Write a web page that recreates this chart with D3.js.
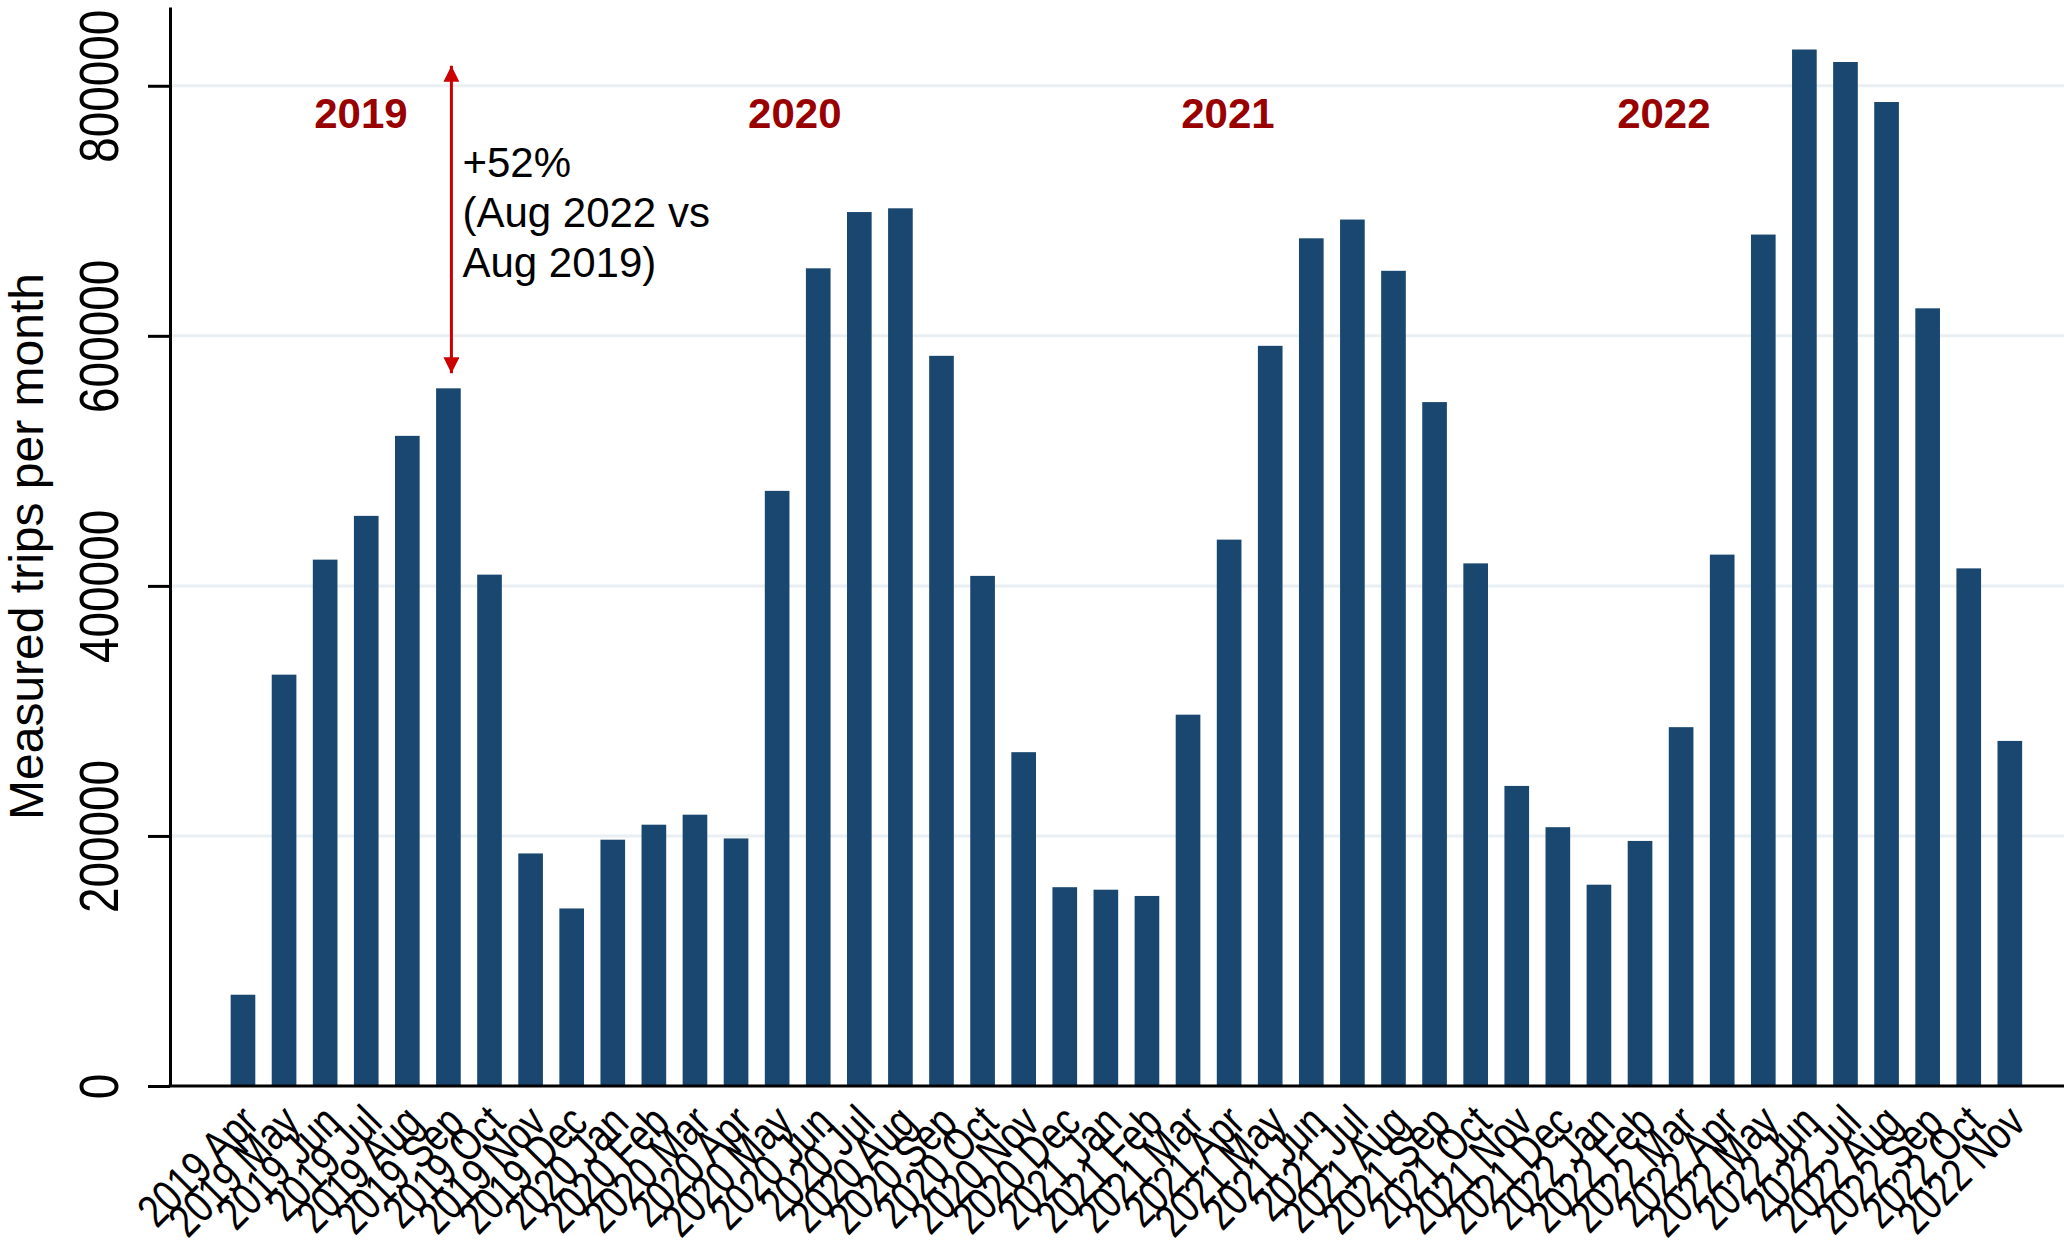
<!DOCTYPE html>
<html>
<head>
<meta charset="utf-8">
<script src="https://cdn.jsdelivr.net/npm/d3@7"></script>
<style>
  html, body { margin: 0; padding: 0; background: #fff; }
  text { font-family: "Liberation Sans", Arial, sans-serif; }
</style>
</head>
<body>
<div id="chart"></div>
<script>
// months on the x axis
const months = [
  "2019 Apr", "2019 May", "2019 Jun", "2019 Jul", "2019 Aug", "2019 Sep", "2019 Oct", "2019 Nov", "2019 Dec",
  "2020 Jan", "2020 Feb", "2020 Mar", "2020 Apr", "2020 May", "2020 Jun", "2020 Jul", "2020 Aug", "2020 Sep", "2020 Oct", "2020 Nov", "2020 Dec",
  "2021 Jan", "2021 Feb", "2021 Mar", "2021 Apr", "2021 May", "2021 Jun", "2021 Jul", "2021 Aug", "2021 Sep", "2021 Oct", "2021 Nov", "2021 Dec",
  "2022 Jan", "2022 Feb", "2022 Mar", "2022 Apr", "2022 May", "2022 Jun", "2022 Jul", "2022 Aug", "2022 Sep", "2022 Oct", "2022 Nov"
];

// measured trips per month
const trips = [
  73000, 329000, 421000, 456000, 520000, 558000, 409000, 186000, 142000,
  197000, 209000, 217000, 198000, 476000, 654000, 699000, 702000, 584000, 408000, 267000, 159000,
  157000, 152000, 297000, 437000, 592000, 678000, 693000, 652000, 547000, 418000, 240000, 207000,
  161000, 196000, 287000, 425000, 681000, 829000, 819000, 787000, 622000, 414000, 276000
];

const yTicks = [0, 200000, 400000, 600000, 800000];
const yMax = 863000;

// year captions, placed at (month index, trips)
const yearLabels = ["2019", "2020", "2021", "2022"];
const yearLabelIndex = [2.87, 13.43, 23.97, 34.58];
const yearLabelValue = 766000;

// the +52% arrow and its note
const arrowMonth = "2019 Sep";
const arrowFrom = 570000;
const arrowTo = 816000;
const noteLines = ["+52%", "(Aug 2022 vs", "Aug 2019)"];
const noteValues = [727000, 687000, 647000];

const width = 2064;
const height = 1255;
const plot = { left: 170, right: 2064, top: 7, bottom: 1086 };

const barColor = "#1a476f";
const gridColor = "#e9eff3";
const yearColor = "#990000";
const arrowColor = "#cc0000";

const svg = d3.select("#chart")
    .append("svg")
    .attr("width", width)
    .attr("height", height)
    .style("display", "block");

svg.append("rect").attr("width", width).attr("height", height).attr("fill", "#fff");

const x = d3.scaleBand()
    .domain(months)
    .range([210.1, 2042.7])
    .paddingInner(0.4)
    .paddingOuter(0.5);

const y = d3.scaleLinear()
    .domain([0, yMax])
    .range([plot.bottom, plot.top]);

// month index -> bar centre, for the captions
const xi = d3.scaleLinear()
    .domain([0, months.length - 1])
    .range([x(months[0]) + x.bandwidth() / 2, x(months[months.length - 1]) + x.bandwidth() / 2]);

// gridlines
svg.append("g")
    .selectAll("line")
    .data(yTicks.filter(d => d > 0))
    .join("line")
    .attr("x1", plot.left)
    .attr("x2", plot.right)
    .attr("y1", d => y(d))
    .attr("y2", d => y(d))
    .attr("stroke", gridColor)
    .attr("stroke-width", 3);

// bars
svg.append("g")
    .attr("fill", barColor)
    .selectAll("rect")
    .data(months.map((m, i) => ({ month: m, value: trips[i] })))
    .join("rect")
    .attr("x", d => x(d.month))
    .attr("y", d => y(d.value))
    .attr("width", x.bandwidth())
    .attr("height", d => y(0) - y(d.value));

// y axis
const yAxis = svg.append("g")
    .attr("transform", `translate(${plot.left},0)`)
    .call(d3.axisLeft(y).tickValues(yTicks).tickFormat(d3.format("d")).tickSize(22).tickSizeOuter(0));
yAxis.select(".domain").attr("stroke", "#000").attr("stroke-width", 3);
yAxis.selectAll(".tick line").attr("stroke", "#000").attr("stroke-width", 3);
yAxis.selectAll(".tick text")
    .attr("x", null).attr("dy", null)
    .attr("text-anchor", "middle")
    .attr("transform", `translate(-52,0) rotate(-90) scale(0.82,1)`)
    .attr("font-size", 56)
    .attr("fill", "#000");

// x axis
const xAxis = svg.append("g")
    .attr("transform", `translate(0,${plot.bottom})`)
    .call(d3.axisBottom(x).tickSize(0).tickSizeOuter(0));
xAxis.select(".domain").remove();
xAxis.selectAll(".tick text")
    .attr("y", null).attr("dy", null)
    .attr("text-anchor", "end")
    .attr("transform", "translate(18,39) rotate(-45) scale(0.8,1)")
    .attr("font-size", 46)
    .attr("fill", "#000");
svg.append("line")
    .attr("x1", plot.left - 1.5)
    .attr("x2", plot.right)
    .attr("y1", plot.bottom)
    .attr("y2", plot.bottom)
    .attr("stroke", "#000")
    .attr("stroke-width", 3);

// y title
svg.append("text")
    .attr("transform", `translate(43,${(plot.top + plot.bottom) / 2}) rotate(-90)`)
    .attr("text-anchor", "middle")
    .attr("font-size", 48)
    .text("Measured trips per month");

// year captions
svg.append("g")
    .selectAll("text")
    .data(yearLabels)
    .join("text")
    .attr("x", (d, i) => xi(yearLabelIndex[i]))
    .attr("y", y(yearLabelValue))
    .attr("text-anchor", "middle")
    .attr("font-size", 42)
    .attr("font-weight", "bold")
    .attr("fill", yearColor)
    .text(d => d);

// double-headed arrow
const defs = svg.append("defs");
defs.append("marker")
    .attr("id", "head")
    .attr("viewBox", "0 0 10 10")
    .attr("refX", 10)
    .attr("refY", 5)
    .attr("markerWidth", 16)
    .attr("markerHeight", 16)
    .attr("markerUnits", "userSpaceOnUse")
    .attr("orient", "auto-start-reverse")
    .append("path")
    .attr("d", "M0,0L10,5L0,10Z")
    .attr("fill", arrowColor);

const ax = x(arrowMonth) + x.bandwidth() / 2 + 3;
svg.append("line")
    .attr("x1", ax).attr("x2", ax)
    .attr("y1", y(arrowFrom)).attr("y2", y(arrowTo))
    .attr("stroke", arrowColor)
    .attr("stroke-width", 3)
    .attr("marker-start", "url(#head)")
    .attr("marker-end", "url(#head)");

// note next to the arrow
svg.append("g")
    .selectAll("text")
    .data(noteLines)
    .join("text")
    .attr("x", ax + 11)
    .attr("y", (d, i) => y(noteValues[i]))
    .attr("font-size", 42)
    .attr("fill", "#000")
    .text(d => d);
</script>
</body>
</html>
